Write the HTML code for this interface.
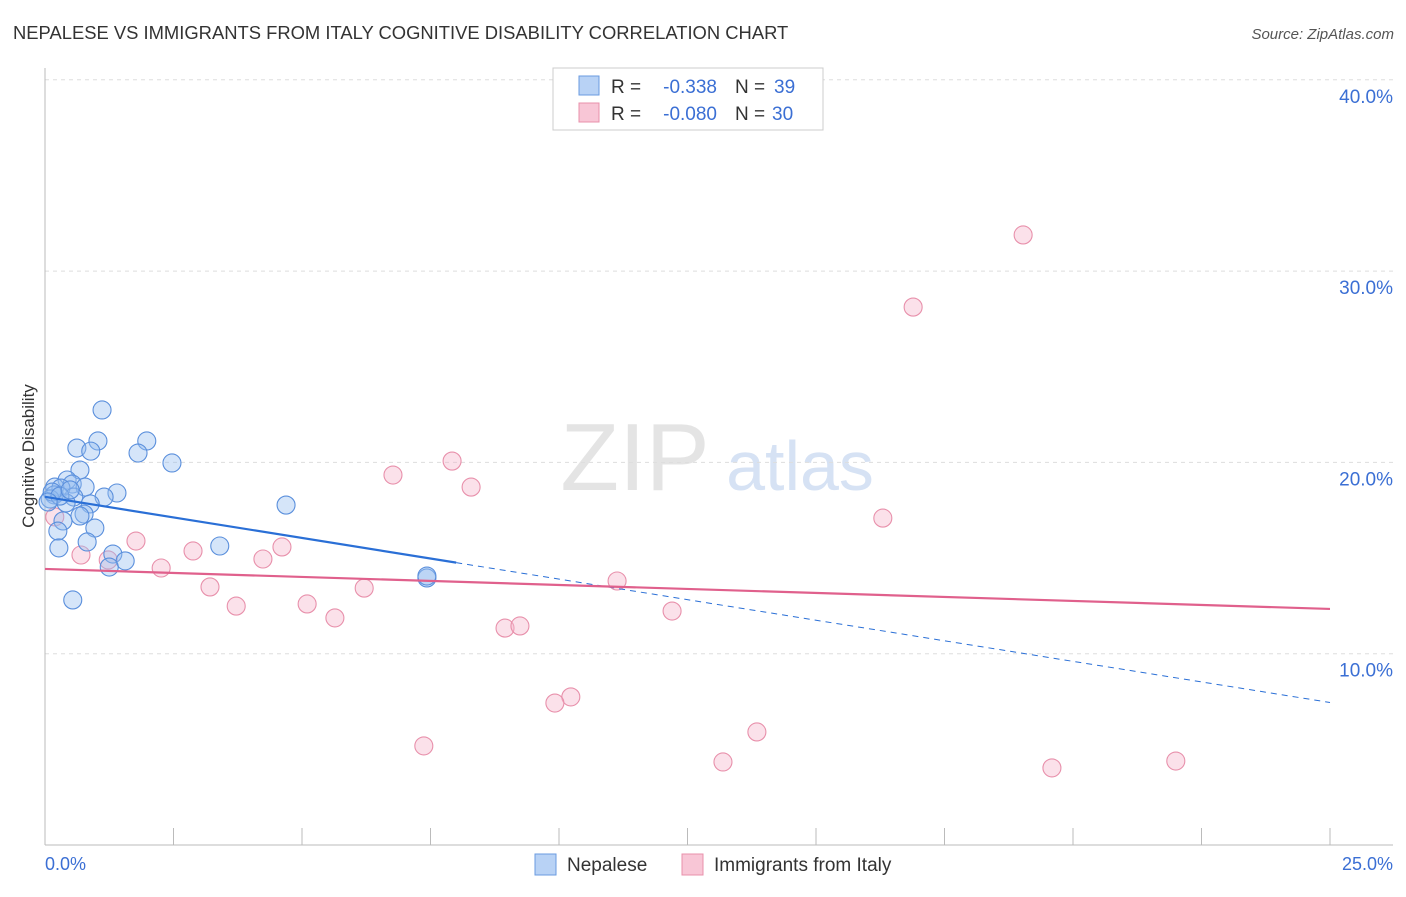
<!DOCTYPE html>
<html><head><meta charset="utf-8"><style>
body{margin:0;background:#fff;font-family:"Liberation Sans",sans-serif}
svg text{font-family:"Liberation Sans",sans-serif}
</style></head><body>
<svg id="c" width="1406" height="892" xmlns="http://www.w3.org/2000/svg">
<text x="13" y="39" font-size="18.4" fill="#333">NEPALESE VS IMMIGRANTS FROM ITALY COGNITIVE DISABILITY CORRELATION CHART</text>
<text x="1394" y="39" font-size="15" fill="#555" text-anchor="end" font-style="italic">Source: ZipAtlas.com</text>
<text x="635" y="490" font-size="96" fill="#e4e4e4" font-family="Liberation Serif" text-anchor="middle">ZIP</text>
<text x="800" y="490" font-size="70" fill="#d6e2f4" text-anchor="middle">atlas</text>
<text transform="translate(34,456) rotate(-90)" font-size="17" fill="#333" text-anchor="middle">Cognitive Disability</text>
<g id="grid"></g><g id="marks"></g>
<g>
<rect x="553" y="68" width="270" height="62" fill="#fff" stroke="#ccc"/>
<rect x="579" y="76" width="20" height="19" fill="#b8d2f5" stroke="#6a9be0"/>
<rect x="579" y="103" width="20" height="19" fill="#f8c6d6" stroke="#e890ab"/>
<text x="611" y="93" font-size="19" fill="#333">R =</text>
<text x="717" y="93" font-size="19" fill="#3b6fd4" text-anchor="end">-0.338</text>
<text x="735" y="93" font-size="19" fill="#333">N =</text>
<text x="774" y="93" font-size="19" fill="#3b6fd4">39</text>
<text x="611" y="120" font-size="19" fill="#333">R =</text>
<text x="717" y="120" font-size="19" fill="#3b6fd4" text-anchor="end">-0.080</text>
<text x="735" y="120" font-size="19" fill="#333">N =</text>
<text x="772" y="120" font-size="19" fill="#3b6fd4">30</text>
</g>
<g>
<rect x="535" y="854" width="21" height="21" fill="#b8d2f5" stroke="#6a9be0"/>
<text x="567" y="871" font-size="19" fill="#333">Nepalese</text>
<rect x="682" y="854" width="21" height="21" fill="#f8c6d6" stroke="#e890ab"/>
<text x="714" y="871" font-size="19" fill="#333">Immigrants from Italy</text>
</g>
<text x="45" y="870" font-size="18" fill="#3b6fd4">0.0%</text>
<text x="1393" y="870" font-size="18" fill="#3b6fd4" text-anchor="end">25.0%</text>
</svg>
<script>
const yTicks=[10,20,30,40];
const blueX=[1.11,1.03,1.98,0.62,0.89,1.81,2.47,0.68,0.43,0.53,0.78,0.19,0.31,0.18,0.56,1.40,1.15,0.88,0.10,0.41,4.69,0.76,0.68,0.97,0.35,0.25,0.82,0.27,3.40,1.32,1.56,1.25,0.54,7.43,7.43,0.14,0.29,0.49,0.06];
const blueY=[22.74,21.12,21.12,20.75,20.59,20.49,19.97,19.60,19.08,18.87,18.71,18.71,18.66,18.30,18.19,18.40,18.19,17.83,18.09,17.88,17.77,17.30,17.20,16.57,16.94,16.41,15.84,15.53,15.63,15.21,14.85,14.53,12.81,13.96,14.06,18.45,18.24,18.56,17.93];
const pinkX=[19.03,16.89,7.92,6.77,8.29,16.30,1.77,2.88,4.61,0.70,1.23,4.24,2.26,11.13,3.21,6.21,3.72,5.10,12.20,5.64,8.95,9.24,10.23,9.92,13.85,7.37,13.19,19.59,22.00,0.19];
const pinkY=[31.89,28.12,20.07,19.34,18.71,17.09,15.89,15.37,15.58,15.16,14.90,14.95,14.48,13.80,13.49,13.43,12.49,12.60,12.23,11.87,11.34,11.45,7.74,7.42,5.91,5.18,4.34,4.03,4.39,17.15];
const blueTrend=[18.2,-0.43];
const pinkTrend=[14.43,-0.0836];
const X=v=>45+v*51.4, Y=v=>845-v*19.13;
const NS="http://www.w3.org/2000/svg";
function mk(p,t,a){const e=document.createElementNS(NS,t);for(const k in a)e.setAttribute(k,a[k]);p.appendChild(e);return e;}
const g=document.getElementById('grid'),m=document.getElementById('marks');
yTicks.forEach(t=>{
 const l=mk(g,'line',{x1:45,x2:1393,y1:Y(t),y2:Y(t),stroke:'#ddd','stroke-dasharray':'4,4'});
 
 
 const tx=mk(g,'text',{x:1393,y:Y(t)+23,'font-size':19,fill:'#3b6fd4','text-anchor':'end'});
 tx.textContent=t.toFixed(1)+'%';
 
 
});
mk(g,'line',{x1:45,x2:45,y1:68,y2:845,stroke:'#bbb'});
mk(g,'line',{x1:45,x2:1393,y1:845,y2:845,stroke:'#bbb'});
for(let i=0;i<=10;i++){mk(g,'line',{x1:X(i*2.5),x2:X(i*2.5),y1:828,y2:845,stroke:'#bbb'});}
pinkX.forEach((x,i)=>{const c=mk(m,'circle',{cx:X(x),cy:Y(pinkY[i]),r:9,fill:'rgba(246,180,202,0.4)',stroke:'#e890ab','stroke-width':1.1});
 
 });
blueX.forEach((x,i)=>{const c=mk(m,'circle',{cx:X(x),cy:Y(blueY[i]),r:9,fill:'rgba(150,190,240,0.4)',stroke:'#5a8fdc','stroke-width':1.1});
 
 });
const bt=v=>blueTrend[0]+blueTrend[1]*v, pt=v=>pinkTrend[0]+pinkTrend[1]*v;
const l1=mk(m,'line',{x1:X(0),y1:Y(bt(0)),x2:X(8),y2:Y(bt(8)),stroke:'#2a6fd6','stroke-width':2.2});


const l2=mk(m,'line',{x1:X(8),y1:Y(bt(8)),x2:X(25),y2:Y(bt(25)),stroke:'#2a6fd6','stroke-width':1,'stroke-dasharray':'6,5'});


const l3=mk(m,'line',{x1:X(0),y1:Y(pt(0)),x2:X(25),y2:Y(pt(25)),stroke:'#e0608c','stroke-width':2.2});


</script>
</body></html>
